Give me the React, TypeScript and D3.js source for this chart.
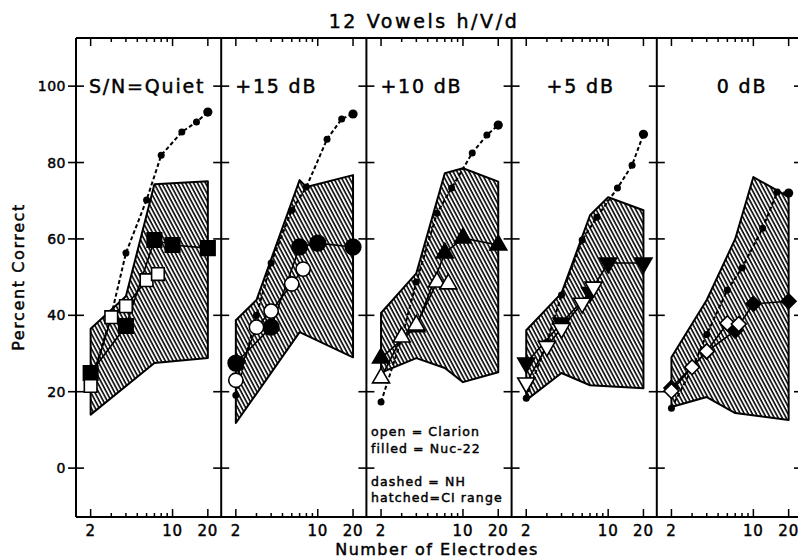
import React from 'react';
import * as d3 from 'd3';

// ---------- data ----------
const panelLabels = ['S/N=Quiet', '+15 dB', '+10 dB', '+5 dB', '0 dB'];
const xTickValues = [2, 3, 4, 5, 6, 7, 8, 9, 10, 20];
const xTickLabels = [2, 10, 20];
const yTickValues = [0, 20, 40, 60, 80, 100];

const nhElectrodes = [2, 3, 4, 6, 8, 12, 16, 20];
const nhQuiet = [22, 40, 56.3, 70.2, 81.9, 88, 90.6, 93.2];
const nh15 = [19.1, 40, 53.7, 67.5, 73.6, 86.1, 91.4, 92.7];
const nh10 = [17.3, 34, 48.7, 66.7, 73.3, 82.5, 87.2, 89.8];
const nh5 = [18.3, 33, 45.3, 59.7, 65.7, 73.3, 79.3, 87.4];
const nh0 = [15.7, 26, 35, 46.6, 52.4, 62.8, 72.3, 72];

const nucElectrodes = [2, 4, 7, 10, 20];
const nucQuiet = [24.9, 37.2, 59.7, 58.4, 57.6];
const nuc15 = [27.5, 36.9, 57.9, 58.9, 57.9];
const nuc10 = [28.8, 37, 56.3, 60.2, 58.4];
const nuc5 = [27.5, 38, 46, 53.7, 53.7];
const nuc0 = [21, 30.5, 36, 43, 43.7];

const clarElectrodes = [2, 3, 4, 6, 7.5];
const clarQuiet = [21.5, 39.5, 42.4, 49.2, 50.8];
const clar15 = [23, 36.9, 41.1, 48.2, 52.1];
const clar10 = [23.6, 34.3, 37.4, 48.7, 48.2];
const clar5 = [22.3, 31.9, 36.6, 43.2, 47.4];
const clar0 = [20.2, 26.4, 30.6, 37.9, 37.7];

// CI range (hatched) upper / lower boundaries
const ciUpperN = [[2, 4, 7, 20], [2, 3, 7, 8, 20], [2, 4, 7, 10, 20], [2, 4, 7, 10, 20], [2, 4, 7, 10, 20]];
const ciUpperV = [[36.5, 45, 74.3, 75.1], [38.7, 44, 75.4, 73.6, 76.7], [40.6, 51, 77.2, 78.5, 75], [36.1, 45.8, 66.2, 70.9, 67.5], [29, 44, 60, 76.2, 71]];
const ciLowerN = [[2, 7, 20], [2, 7, 20], [2, 4, 7, 10, 20], [2, 4, 7, 20], [2, 4, 7, 20]];
const ciLowerV = [[14, 27.5, 28.8], [11.8, 35.6, 29], [25, 28.8, 26.2, 22.5, 25.1], [17.8, 24.9, 21.7, 20.9], [16, 18.6, 14.4, 12.6]];

const nhSeries = [nhQuiet, nh15, nh10, nh5, nh0];
const nucSeries = [nucQuiet, nuc15, nuc10, nuc5, nuc0];
const clarSeries = [clarQuiet, clar15, clar10, clar5, clar0];
const markerShapes = ['square', 'circle', 'triangle', 'triangleDown', 'diamond'];

const legendLines = ['open = Clarion', 'filled = Nuc-22', '', 'dashed = NH', 'hatched=CI range'];

// ---------- layout ----------
const W = 798, H = 559;
const plotLeft = 76, plotTop = 38, plotBottom = 517;
const panelW = 145.2;
const labelOffsets = [13, 14, 14, 35, 60];
const FONT = '"DejaVu Sans", sans-serif';
const TXT = { fontFamily: FONT, fill: '#000', stroke: '#000', strokeWidth: 0.45 } as const;

const y = d3.scaleLinear().domain([-12.8, 112.6]).range([plotBottom, plotTop]);

function xScale(i: number) {
  const L = plotLeft + i * panelW;
  return d3.scaleLog().domain([1.5, 26]).range([L, L + panelW]);
}

function Marker({ shape, filled, cx, cy }: { shape: string; filled: boolean; cx: number; cy: number }) {
  const fill = filled ? '#000' : '#fff';
  const sw = 1.6;
  let path = '';
  let rot = 0;
  if (shape === 'square') path = d3.symbol(d3.symbolSquare, filled ? 210 : 160)() || '';
  else if (shape === 'circle') path = d3.symbol(d3.symbolCircle, filled ? 190 : 160)() || '';
  else if (shape === 'triangle') path = d3.symbol(d3.symbolTriangle, 125)() || '';
  else if (shape === 'triangleDown') { path = d3.symbol(d3.symbolTriangle, 125)() || ''; rot = 180; }
  else if (shape === 'diamond') { path = d3.symbol(d3.symbolSquare, 110)() || ''; rot = 45; }
  return (
    <path d={path} transform={`translate(${cx},${cy}) rotate(${rot})`} fill={fill} stroke="#000" strokeWidth={sw} />
  );
}

function Panel({ i }: { i: number }) {
  const x = xScale(i);
  const line = d3.line<[number, number]>().x(d => x(d[0])).y(d => y(d[1]));
  const upper = ciUpperN[i].map((n, k) => [n, ciUpperV[i][k]] as [number, number]);
  const lower = ciLowerN[i].map((n, k) => [n, ciLowerV[i][k]] as [number, number]);
  const poly = upper.concat(lower.slice().reverse());
  const polyPath = line(poly) + 'Z';
  const nh = nhElectrodes.map((n, k) => [n, nhSeries[i][k]] as [number, number]);
  const nuc = nucElectrodes.map((n, k) => [n, nucSeries[i][k]] as [number, number]);
  const clar = clarElectrodes.map((n, k) => [n, clarSeries[i][k]] as [number, number]);
  const shape = markerShapes[i];
  const L = plotLeft + i * panelW;
  return (
    <g>
      <path d={polyPath} fill="url(#hatch)" stroke="#000" strokeWidth={2} strokeLinejoin="round" />
      <path d={line(nh) || ''} fill="none" stroke="#000" strokeWidth={2} strokeDasharray="4,2.5" />
      {nh.map((d, k) => (
        <circle key={k} cx={x(d[0])} cy={y(d[1])} r={k === nh.length - 1 ? 4.6 : 3.5} fill="#000" />
      ))}
      <path d={line(nuc) || ''} fill="none" stroke="#000" strokeWidth={1.6} />
      <path d={line(clar) || ''} fill="none" stroke="#000" strokeWidth={1.6} />
      {nuc.map((d, k) => <Marker key={'n' + k} shape={shape} filled cx={x(d[0])} cy={y(d[1])} />)}
      {clar.map((d, k) => <Marker key={'c' + k} shape={shape} filled={false} cx={x(d[0])} cy={y(d[1])} />)}
      <text x={L + labelOffsets[i]} y={y(100) + 7} fontSize={19} letterSpacing={1.8} {...TXT}>{panelLabels[i]}</text>
      {xTickValues.map(v => {
        const major = xTickLabels.includes(v);
        const len = major ? 8 : 4;
        return (
          <g key={v}>
            <line x1={x(v)} x2={x(v)} y1={plotBottom} y2={plotBottom - len} stroke="#000" strokeWidth={1.5} />
            <line x1={x(v)} x2={x(v)} y1={plotTop} y2={plotTop + len} stroke="#000" strokeWidth={1.5} />
          </g>
        );
      })}
      {xTickLabels.map(v => (
        <text key={'l' + v} x={x(v)} y={plotBottom + 19} textAnchor="middle" fontSize={15} letterSpacing={0.8} {...TXT}>{v}</text>
      ))}
    </g>
  );
}

export default function App() {
  const dividers = d3.range(6).map(i => plotLeft + i * panelW);
  return (
    <svg width={W} height={H} style={{ position: 'fixed', left: 0, top: 0, background: '#fff' }}>
      <defs>
        <pattern id="hatch" width={3.5} height={3.5} patternUnits="userSpaceOnUse" patternTransform="rotate(-28)">
          <rect width={3.5} height={3.5} fill="#fff" />
          <line x1={1} y1={0} x2={1} y2={3.5} stroke="#000" strokeWidth={1.6} />
        </pattern>
      </defs>
      <rect width={W} height={H} fill="#fff" />
      {d3.range(5).map(i => <Panel key={i} i={i} />)}
      {/* frame */}
      <line x1={plotLeft} x2={W} y1={plotTop} y2={plotTop} stroke="#000" strokeWidth={2} />
      <line x1={plotLeft} x2={W} y1={plotBottom} y2={plotBottom} stroke="#000" strokeWidth={2} />
      {dividers.map((dx, i) => (
        <g key={i}>
          <line x1={dx} x2={dx} y1={plotTop} y2={plotBottom} stroke="#000" strokeWidth={2} />
          {yTickValues.map(v => (
            <line key={v} x1={dx - 8} x2={dx + 8} y1={y(v)} y2={y(v)} stroke="#000" strokeWidth={1.6} />
          ))}
        </g>
      ))}
      {yTickValues.map(v => (
        <text key={v} x={66} y={y(v) + 5} textAnchor="end" fontSize={14} letterSpacing={0.5} {...TXT}>{v}</text>
      ))}
      <text x={424} y={28} textAnchor="middle" fontSize={19} letterSpacing={2.6} {...TXT}>12 Vowels h/V/d</text>
      <text x={437} y={555} textAnchor="middle" fontSize={16} letterSpacing={1.5} {...TXT}>Number of Electrodes</text>
      <text transform={`translate(24,${277}) rotate(-90)`} textAnchor="middle" fontSize={16} letterSpacing={1.6} {...TXT}>Percent Correct</text>
      {legendLines.map((t, k) => (
        <text key={k} x={371} y={436 + k * 16.5} fontSize={12.5} letterSpacing={1.1} {...TXT}>{t}</text>
      ))}
    </svg>
  );
}
